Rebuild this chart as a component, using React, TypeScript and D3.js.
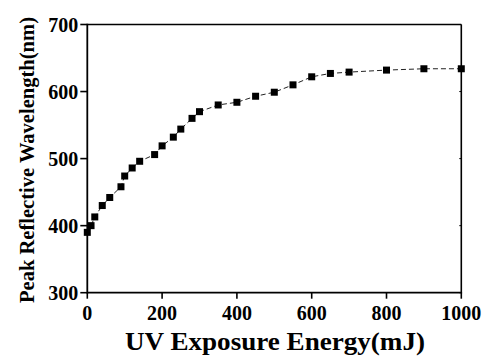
import React from "react";
import * as d3 from "d3";

const energy = [0, 10, 20, 40, 60, 90, 100, 120, 140, 180, 200, 230, 250, 280, 300, 350, 400, 450, 500, 550, 600, 650, 700, 800, 900, 1000];
const wavelength = [390, 400, 413, 430, 442, 458, 474, 486, 496, 506, 519, 532, 544, 560, 570, 580, 584, 593, 599, 610, 622, 627, 629, 632, 634, 634];
const xTicks = [0, 200, 400, 600, 800, 1000];
const yTicks = [300, 400, 500, 600, 700];
const xTitle = "UV Exposure Energy(mJ)";
const yTitle = "Peak Reflective Wavelength(nm)";

const W = 487, H = 356;
const L = 87.3, R = 461.3, T = 24.5, B = 292.7;
const FONT = "'Liberation Serif', 'Times New Roman', serif";

export default function App() {
  const x = d3.scaleLinear().domain([0, 1000]).range([L, R]);
  const y = d3.scaleLinear().domain([300, 700]).range([B, T]);
  const data = energy.map((e, i) => ({ e, w: wavelength[i] }));
  const line = d3.line<{ e: number; w: number }>().x(d => x(d.e)).y(d => y(d.w));
  const ms = 7;
  return (
    <svg width={W} height={H} style={{ position: "absolute", left: 0, top: 0, background: "#fff" }}>
      <path d={line(data) || ""} fill="none" stroke="#222" strokeWidth={1} strokeDasharray="5,3" />
      {data.map((d, i) => (
        <rect key={i} x={x(d.e) - ms / 2} y={y(d.w) - ms / 2} width={ms} height={ms} fill="#000" />
      ))}
      <line x1={L} x2={R} y1={T} y2={T} stroke="#000" strokeWidth={1.6} />
      <line x1={R} x2={R} y1={T} y2={B} stroke="#000" strokeWidth={1.6} />
      <line x1={L} x2={R + 0.8} y1={B} y2={B} stroke="#000" strokeWidth={1.8} />
      <line x1={L} x2={L} y1={T - 0.8} y2={B + 0.8} stroke="#000" strokeWidth={1.8} />
      {yTicks.map(t => (
        <g key={"y" + t}>
          <line x1={L - 7} x2={L} y1={y(t)} y2={y(t)} stroke="#000" strokeWidth={1.6} />
          <line x1={R - 2} x2={R} y1={y(t)} y2={y(t)} stroke="#000" strokeWidth={1} />
          <text x={L - 9} y={y(t)} dy="0.35em" textAnchor="end" fontFamily={FONT} fontWeight="bold" fontSize={20} fill="#000">{t}</text>
        </g>
      ))}
      {xTicks.map(t => (
        <g key={"x" + t}>
          <line x1={x(t)} x2={x(t)} y1={B} y2={B + 6} stroke="#000" strokeWidth={1.6} />
          <text x={x(t)} y={319.5} textAnchor="middle" fontFamily={FONT} fontWeight="bold" fontSize={20} fill="#000">{t}</text>
        </g>
      ))}
      <text x={275} y={350} textAnchor="middle" fontFamily={FONT} fontWeight="bold" fontSize={26} fill="#000"
        textLength={300} lengthAdjust="spacingAndGlyphs">{xTitle}</text>
      <text transform={`translate(34,160) rotate(-90)`} textAnchor="middle" fontFamily={FONT} fontWeight="bold" fontSize={21} fill="#000"
        textLength={286} lengthAdjust="spacingAndGlyphs">{yTitle}</text>
    </svg>
  );
}
